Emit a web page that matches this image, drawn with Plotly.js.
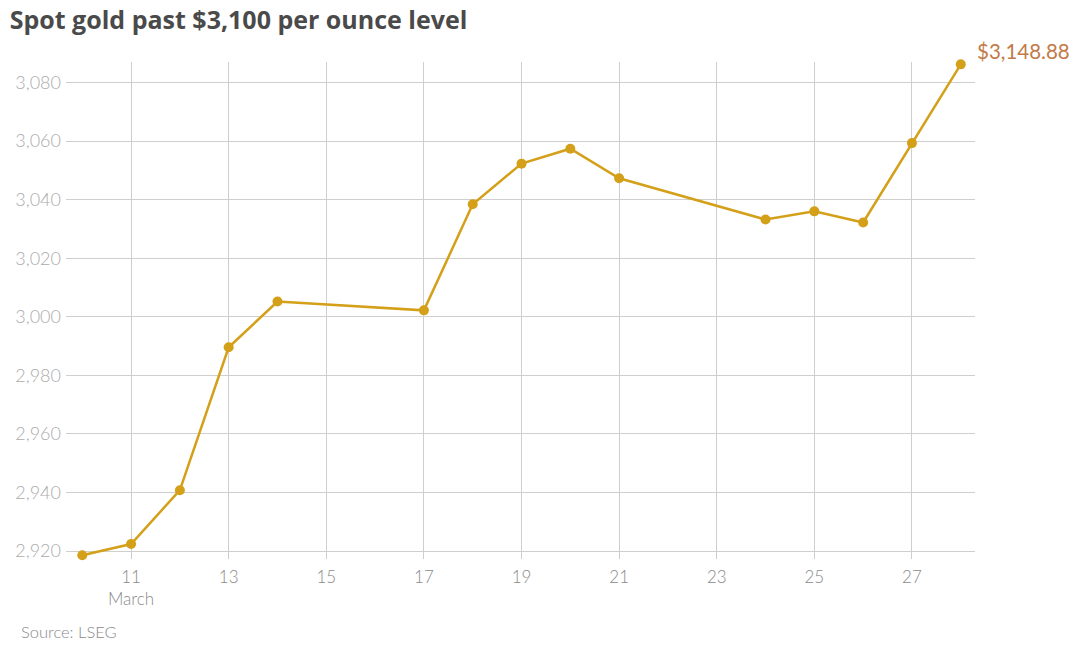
<!DOCTYPE html>
<html>
<head>
<meta charset="utf-8">
<script src="https://cdn.plot.ly/plotly-3.0.1.min.js"></script>
<style>html,body{margin:0;padding:0;background:#fff;}#chart{width:1078px;height:659px;}</style>
</head>
<body>
<div id="chart"></div>
<script>
const dates = ["2025-03-10","2025-03-11","2025-03-12","2025-03-13","2025-03-14","2025-03-17","2025-03-18","2025-03-19","2025-03-20","2025-03-21","2025-03-24","2025-03-25","2025-03-26","2025-03-27","2025-03-28"];
const prices = [2918.6, 2922.4, 2940.8, 2989.6, 3005.2, 3002.2, 3038.4, 3052.3, 3057.4, 3047.3, 3033.2, 3036.0, 3032.2, 3059.3, 3086.2];
const xTickVals = ["2025-03-11","2025-03-13","2025-03-15","2025-03-17","2025-03-19","2025-03-21","2025-03-23","2025-03-25","2025-03-27"];
const xTickText = ["11<br>March","13","15","17","19","21","23","25","27"];
const yTickVals = [2920, 2940, 2960, 2980, 3000, 3020, 3040, 3060, 3080];
const lastLabel = "$3,148.88";
const titleText = "Spot gold past $3,100 per ounce level";
const sourceText = "Source: LSEG";

const gold = "#d4a019";
const trace = {
  x: dates, y: prices, type: "scatter", mode: "lines+markers",
  line: {color: gold, width: 2.5},
  marker: {color: gold, size: 10},
  cliponaxis: false, hoverinfo: "skip"
};
const layout = {
  width: 1078, height: 659,
  paper_bgcolor: "#fff", plot_bgcolor: "#fff",
  margin: {l: 66, r: 103, t: 62, b: 100},
  showlegend: false,
  font: {family: "Lato, 'Open Sans', sans-serif", color: "#999"},
  title: {text: "<b>" + titleText + "</b>", x: 0.009, xanchor: "left", y: 1 - 20/659, yanchor: "middle",
          font: {family: "'Open Sans', sans-serif", size: 25, color: "#4a4a4a"}},
  xaxis: {
    type: "date", range: ["2025-03-09 16:00", "2025-03-28 07:00"],
    tickvals: xTickVals, ticktext: xTickText,
    showgrid: true, gridcolor: "#cfcfcf", gridwidth: 1,
    zeroline: false, showline: false, ticks: "", ticklabelstandoff: 6,
    tickfont: {family: "Lato, sans-serif", size: 17, color: "#8a8a8a", weight: 300}
  },
  yaxis: {
    range: [2917.3, 3087],
    tickvals: yTickVals, tickformat: ",",
    showgrid: true, gridcolor: "#cfcfcf", gridwidth: 1,
    zeroline: false, showline: false, ticks: "", ticklabelstandoff: 4,
    tickfont: {family: "Lato, sans-serif", size: 18, color: "#ababab", weight: 300}
  },
  annotations: [
    {x: dates[dates.length-1], y: prices[prices.length-1], xref: "x", yref: "y",
     text: lastLabel, showarrow: false, xanchor: "left", yanchor: "middle", xshift: 14, yshift: 13,
     font: {family: "Lato, sans-serif", size: 20.5, color: "#c27a48"}},
    {x: (19-66)/909, y: (559-632)/497, xref: "paper", yref: "paper", xanchor: "left", yanchor: "middle",
     text: sourceText, showarrow: false,
     font: {family: "Lato, sans-serif", size: 16.5, color: "#8a8a8a", weight: 300}}
  ]
};
Plotly.newPlot("chart", [trace], layout, {displayModeBar: false, staticPlot: true});
</script>
</body>
</html>
